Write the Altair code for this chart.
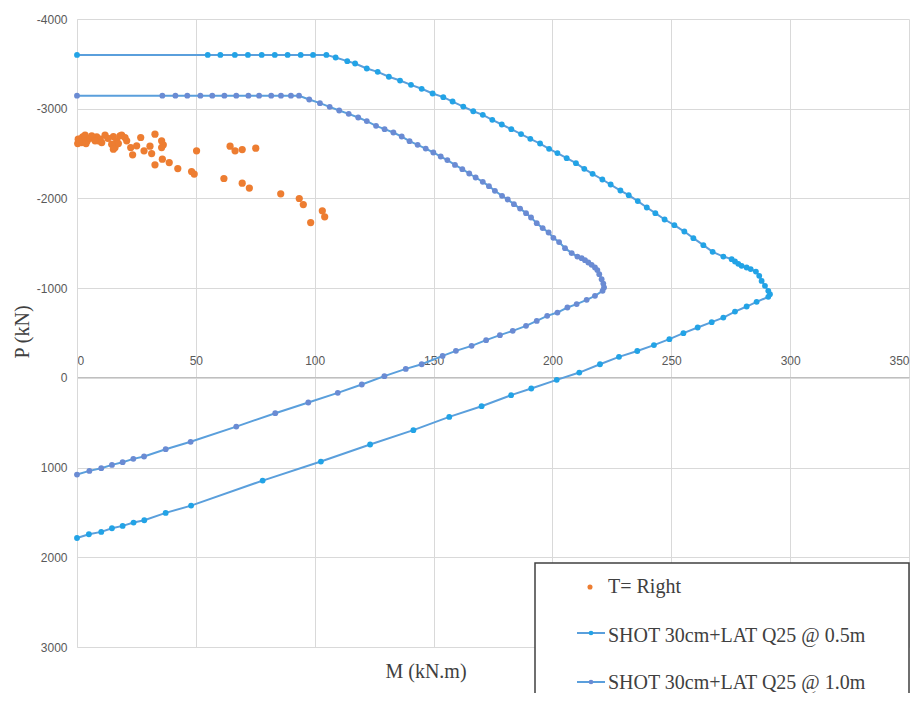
import altair as alt
import pandas as pd

# ---- data ----
series_names = ["T= Right", "SHOT 30cm+LAT Q25 @ 0.5m", "SHOT 30cm+LAT Q25 @ 1.0m"]

m_05 = [0, 55.0, 60.3, 66.4, 71.9, 77.7, 83.2, 88.6, 94.1, 99.3, 104.9,
        108.8, 113.7, 117.0, 121.9, 126.5, 131.2, 135.9, 140.5, 145.0, 149.6, 154.1, 158.0,
        162.5, 166.7, 170.7, 174.7, 178.7, 182.7, 186.8, 190.7, 194.8, 198.6, 202.1, 206.0,
        209.9, 213.4, 216.9, 221.0, 224.5, 228.6, 232.1, 235.9, 239.7, 243.3, 247.2, 251.3,
        255.5, 259.3, 263.5, 267.4, 271.9, 275.4, 276.8, 278.2, 279.6, 281.7, 283.4, 285.6,
        287.0, 288.0, 289.4, 290.8, 291.5, 290.8, 285.9, 281.7, 276.8, 271.9, 267.0, 261.1,
        255.1, 249.2, 242.7, 235.7, 228.0, 220.0, 211.3, 201.8, 191.1, 182.6, 170.2, 156.6,
        141.5, 123.3, 102.6, 78.1, 48.0, 37.3, 28.3, 23.8, 19.2, 14.7, 10.2, 5.0, 0]
p_05 = [-3600, -3600, -3600, -3600, -3600, -3600, -3600, -3600, -3600, -3600, -3600,
        -3571, -3530, -3504, -3448, -3411, -3356, -3314, -3266, -3222, -3170, -3129, -3080,
        -3024, -2972, -2932, -2876, -2824, -2772, -2717, -2664, -2612, -2553, -2505, -2449,
        -2393, -2330, -2274, -2211, -2155, -2088, -2036, -1970, -1899, -1836, -1765, -1702,
        -1631, -1557, -1479, -1405, -1352, -1323, -1297, -1271, -1249, -1230, -1212, -1185,
        -1137, -1081, -1026, -970, -933, -903, -847, -795, -739, -672, -621, -561,
        -498, -431, -365, -299, -234, -152, -59, 22, 119, 193, 316, 435,
        583, 743, 933, 1145, 1424, 1505, 1587, 1613, 1650, 1676, 1717, 1743, 1785]

m_10 = [0, 35.9, 41.4, 46.4, 51.9, 56.9, 62.0, 67.0, 72.1, 76.6, 81.7, 85.8, 90.0, 93.4,
        97.7, 102.2, 106.3, 110.3, 114.3, 118.3, 121.9, 125.8, 129.4, 133.1, 136.6, 139.9,
        143.3, 146.7, 149.9, 153.0, 155.8, 159.0, 162.1, 165.0, 167.7, 170.7, 173.3, 175.8,
        178.8, 181.2, 183.8, 186.4, 188.9, 191.0, 193.4, 195.9, 198.4, 200.4, 202.8, 205.3,
        208.1, 210.5, 212.3, 213.7, 215.1, 216.5, 217.9, 218.9, 219.7, 220.7, 221.4, 221.7,
        221.1, 217.9, 214.4, 210.2, 206.3, 202.1, 197.8, 193.4, 188.9, 183.3, 177.9, 172.1,
        166.0, 159.4, 153.8, 145.0, 138.3, 129.3, 119.8, 109.7, 97.3, 83.4, 67.0, 47.8,
        37.3, 28.2, 23.7, 19.2, 14.7, 10.2, 5.2, 0]
p_10 = [-3145, -3145, -3145, -3145, -3145, -3145, -3145, -3145, -3145, -3145, -3145, -3145, -3145, -3145,
        -3103, -3062, -3021, -2980, -2943, -2902, -2862, -2809, -2772, -2735, -2690, -2638,
        -2597, -2556, -2512, -2467, -2427, -2374, -2326, -2278, -2233, -2185, -2137, -2085,
        -2029, -1988, -1936, -1887, -1836, -1787, -1724, -1669, -1620, -1561, -1513, -1446,
        -1390, -1352, -1334, -1312, -1286, -1260, -1230, -1201, -1156, -1100, -1051, -1007,
        -970, -914, -870, -822, -784, -728, -691, -635, -580, -524, -476, -420,
        -357, -301, -245, -152, -100, -19, 74, 167, 275, 394, 543, 713,
        795, 877, 903, 940, 970, 1007, 1037, 1078]

m_right = [0.3, 1.3, 2.4, 3.4, 4.3, 3.8, 5.5, 8.3, 9.0, 11.8, 9.7, 15.3, 16.0, 16.7, 17.4,
           18.8, 20.2, 22.6, 23.4, 25.1, 26.8, 28.2, 30.7, 31.4, 32.8, 32.8, 35.6, 36.3,
           35.6, 35.9, 38.8, 42.4, 48.2, 49.3, 50.3, 61.8, 64.4, 66.5, 69.5, 69.5, 72.5,
           75.2, 85.7, 93.5, 95.2, 98.3, 103.2, 104.2,
           0.5, 2.0, 6.2, 7.6, 10.4, 14.6, 15.3, 18.1, 20.9, 13.0, 1.0]
p_right = [-2612, -2661, -2687, -2705, -2642, -2612, -2672, -2687, -2642, -2705, -2661, -2690,
           -2567, -2642, -2612, -2705, -2679, -2567, -2486, -2586, -2679, -2531, -2583, -2500,
           -2716, -2375, -2642, -2597, -2567, -2438, -2400, -2333, -2300, -2271, -2531, -2222,
           -2583, -2531, -2545, -2170, -2115, -2560, -2051, -1999, -1932, -1731, -1862, -1795,
           -2661, -2623, -2698, -2642, -2623, -2605, -2549, -2698, -2642, -2670, -2630]

x_ticks = [0, 50, 100, 150, 200, 250, 300, 350]
y_ticks = [-4000, -3000, -2000, -1000, 0, 1000, 2000, 3000]

# ---- styling ----
ORANGE = "#ed7d31"
LINE_COLOR = "#5a9fdc"
MARK_05 = "#22a3e6"
MARK_10 = "#6a8bd3"
TXT = "#404040"
SERIF = "Liberation Serif"

curves = pd.DataFrame({
    "series": [series_names[1]] * len(m_05) + [series_names[2]] * len(m_10),
    "M": m_05 + m_10,
    "P": p_05 + p_10,
    "idx": list(range(len(m_05))) + list(range(len(m_10))),
})
right = pd.DataFrame({"series": series_names[0], "M": m_right, "P": p_right})

x_enc = alt.X("M:Q", scale=alt.Scale(domain=[0, 350], nice=False),
              axis=alt.Axis(orient="top", offset=-358, values=x_ticks, grid=True,
                            gridColor="#d9d9d9", domainColor="#bfbfbf", tickSize=0,
                            labelPadding=10, labelFont="Liberation Sans", labelFontSize=12,
                            labelColor="#595959", title=None))
y_enc = alt.Y("P:Q", scale=alt.Scale(domain=[-4000, 3000], nice=False, reverse=True),
              axis=alt.Axis(values=y_ticks, grid=True, gridColor="#d9d9d9",
                            domainColor="#d9d9d9", tickSize=0, labelPadding=10,
                            labelFont="Liberation Sans", labelFontSize=12,
                            labelColor="#595959", labelExpr="'' + datum.value", title=None))

lines = alt.Chart(curves).mark_line(strokeWidth=2).encode(
    x=x_enc, y=y_enc,
    color=alt.Color("series:N", scale=alt.Scale(domain=series_names[1:], range=[LINE_COLOR, LINE_COLOR]), legend=None),
    order="idx:Q",
)
pts = alt.Chart(curves).mark_circle(size=34, opacity=1).encode(
    x=x_enc, y=y_enc,
    color=alt.Color("series:N", scale=alt.Scale(domain=series_names[1:], range=[MARK_05, MARK_10]), legend=None),
)
orange = alt.Chart(right).mark_circle(size=52, opacity=1, color=ORANGE).encode(x=x_enc, y=y_enc)

one = pd.DataFrame({"a": [0]})

# axis titles
x_title = alt.Chart(one).mark_text(font=SERIF, fontSize=20, color=TXT, align="center", baseline="alphabetic").encode(
    x=alt.value(349), y=alt.value(659), text=alt.value("M (kN.m)"))
y_title = alt.Chart(one).mark_text(font=SERIF, fontSize=20, color=TXT, align="center", baseline="alphabetic", angle=270).encode(
    x=alt.value(-48), y=alt.value(313), text=alt.value("P (kN)"))

# legend box
leg_box = alt.Chart(one).mark_rect(fill="white", stroke=TXT, strokeWidth=1.5).encode(
    x=alt.value(458), x2=alt.value(832), y=alt.value(544), y2=alt.value(701))
leg_dot0 = alt.Chart(one).mark_circle(size=26, opacity=1, color=ORANGE).encode(x=alt.value(513), y=alt.value(568))
leg_rule1 = alt.Chart(one).mark_rule(color=LINE_COLOR, strokeWidth=2).encode(
    x=alt.value(500), x2=alt.value(528), y=alt.value(614))
leg_dot1 = alt.Chart(one).mark_circle(size=22, opacity=1, color=MARK_05).encode(x=alt.value(514), y=alt.value(614))
leg_rule2 = alt.Chart(one).mark_rule(color=LINE_COLOR, strokeWidth=2).encode(
    x=alt.value(500), x2=alt.value(528), y=alt.value(663))
leg_dot2 = alt.Chart(one).mark_circle(size=22, opacity=1, color=MARK_10).encode(x=alt.value(514), y=alt.value(663))
leg_txt = [
    alt.Chart(one).mark_text(font=SERIF, fontSize=20, color=TXT, align="left", baseline="alphabetic").encode(
        x=alt.value(531), y=alt.value(yy), text=alt.value(t))
    for t, yy in zip(series_names, [574, 623, 670])
]

chart = alt.layer(
    lines, pts, orange, x_title, y_title,
    leg_box, leg_dot0, leg_rule1, leg_dot1, leg_rule2, leg_dot2, *leg_txt
).resolve_scale(color="independent").properties(
    width=832, height=628,
    autosize=alt.AutoSizeParams(type="none"),
    padding={"left": 69, "top": 11, "right": 1, "bottom": 46},
    background="white",
).configure_view(strokeWidth=0)

chart.save("out.html", embed_options={"renderer": "svg", "actions": False})
